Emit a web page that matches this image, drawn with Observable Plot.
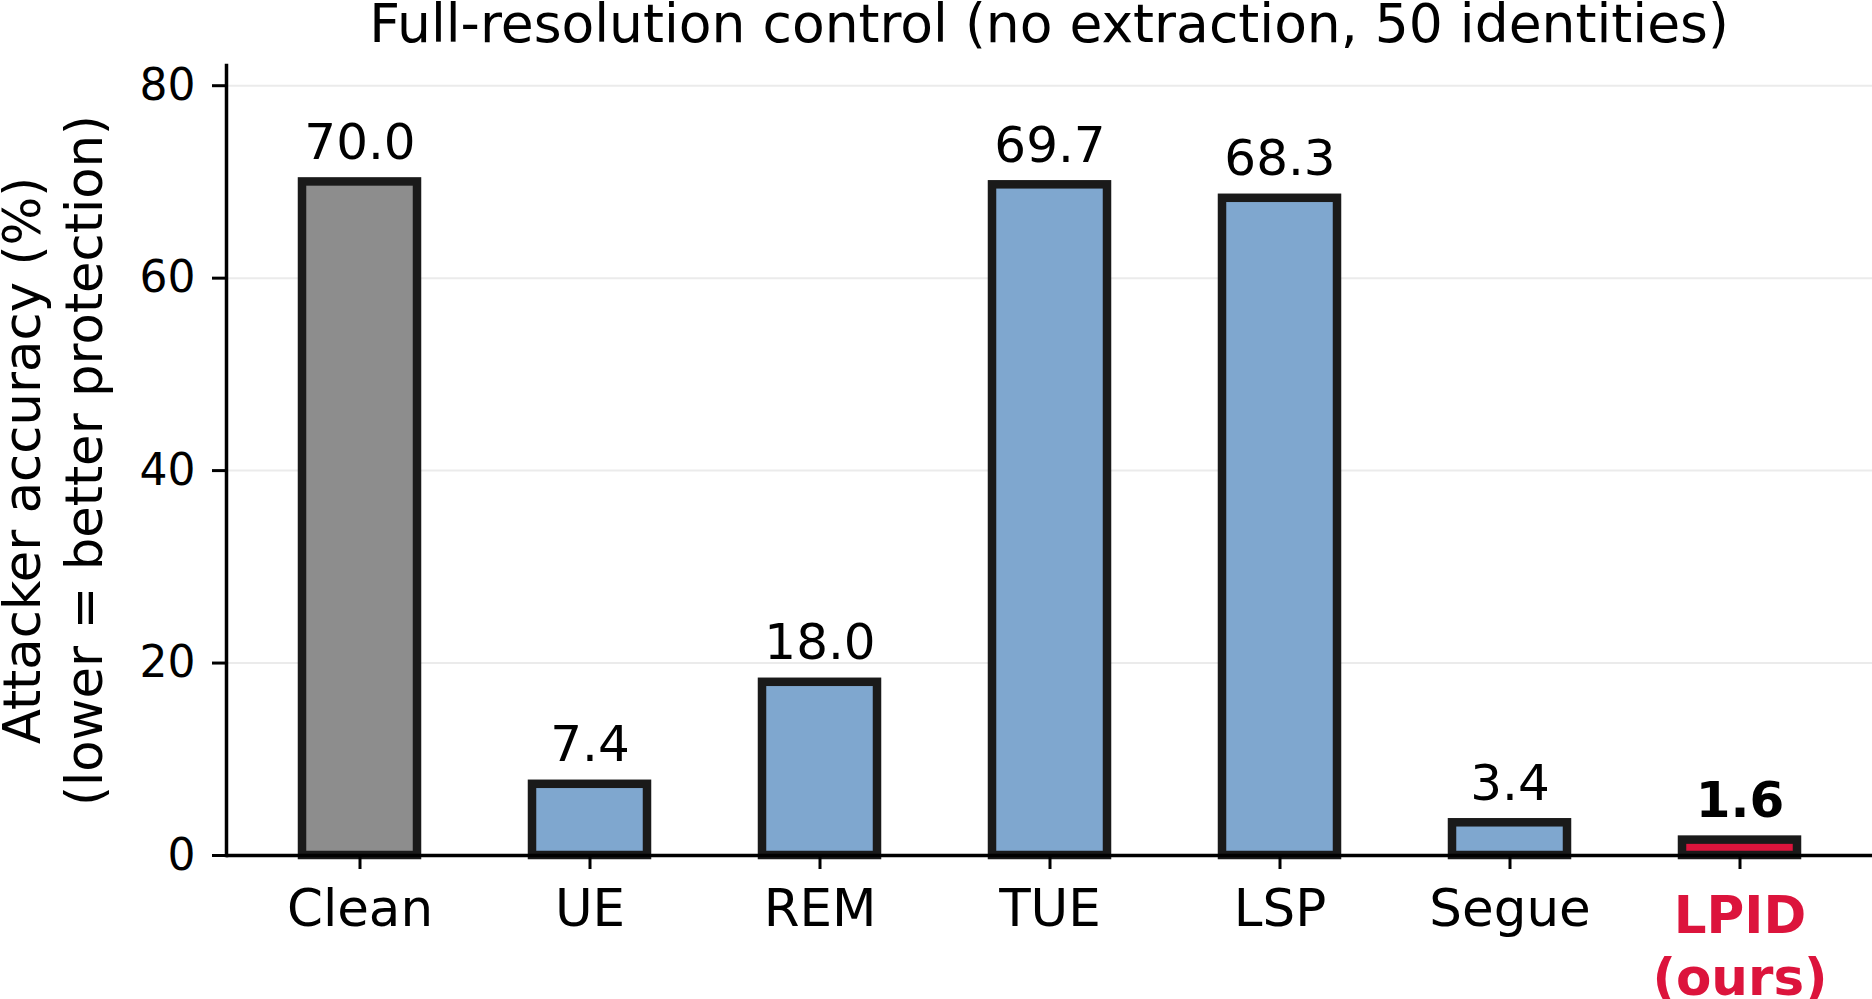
<!DOCTYPE html>
<html>
<head>
<meta charset="utf-8">
<script src="https://cdn.jsdelivr.net/npm/d3@7"></script>
<script src="https://cdn.jsdelivr.net/npm/@observablehq/plot@0.6"></script>
<style>
  html, body { margin: 0; padding: 0; background: #fff; }
  #title {
    font-family: "DejaVu Sans", sans-serif;
    font-size: 53.5px;
    line-height: 52px;
    height: 52px;
    padding-left: 226px;
    text-align: center;
    color: #000;
    position: relative;
    top: -2px;
    white-space: nowrap;
  }
  #chart svg { display: block; }
</style>
</head>
<body>
<div id="title">Full-resolution control (no extraction, 50 identities)</div>
<div id="chart"></div>
<script>
// Attacker accuracy per protection method, full-resolution setting
const methods = ["Clean", "UE", "REM", "TUE", "LSP", "Segue", "LPID"];
const accuracy = [70.0, 7.4, 18.0, 69.7, 68.3, 3.4, 1.6];
const valueLabels = ["70.0", "7.4", "18.0", "69.7", "68.3", "3.4", "1.6"];
const tickLabels = ["Clean", "UE", "REM", "TUE", "LSP", "Segue", "LPID\n(ours)"];
const barColors = ["#8d8d8d", "#7fa7cf", "#7fa7cf", "#7fa7cf", "#7fa7cf", "#7fa7cf", "#dc143c"];
const yTicks = [0, 20, 40, 60, 80];
const yLabel = "Attacker accuracy (%)\n(lower = better protection)";
const ours = "LPID";

const rows = methods.map((m, i) => ({
  method: m,
  acc: accuracy[i],
  label: valueLabels[i],
  tick: tickLabels[i],
  color: barColors[i],
  ours: m === ours
}));
const others = rows.filter(d => !d.ours);
const mine = rows.filter(d => d.ours);

const chart = Plot.plot({
  width: 1872,
  height: 947,
  marginTop: 13,
  marginBottom: 144,
  marginLeft: 226,
  marginRight: 0,
  style: { fontFamily: "DejaVu Sans, sans-serif", fontSize: "44px", color: "#000", background: "#fff", overflow: "visible" },
  x: { domain: methods, paddingInner: 0.5, paddingOuter: 0.325, align: 0.5, label: null },
  y: { domain: [0, 82.1], label: null },
  color: { type: "identity" },
  marks: [
    Plot.gridY(yTicks.filter(t => t > 0), { stroke: "#ebebeb", strokeOpacity: 1, strokeWidth: 2 }),
    Plot.barY(rows, { x: "method", y: "acc", fill: "color", stroke: "#1a1a1a", strokeWidth: 8.5, inset: 0 }),
    Plot.ruleY([0], { stroke: "#000", strokeWidth: 3.5 }),
    Plot.frame({ anchor: "left", stroke: "#000", strokeWidth: 3.5 }),
    Plot.axisY({ ticks: yTicks, tickSize: 14, tickPadding: 17, strokeWidth: 3, fontSize: 44, label: null }),
    Plot.axisX({ tickSize: 14, strokeWidth: 3, tickFormat: () => "", label: null }),
    // value labels above bars
    Plot.text(others, { x: "method", y: "acc", text: "label", lineAnchor: "bottom", dy: -23, fontSize: 50, fill: "#000" }),
    Plot.text(mine, { x: "method", y: "acc", text: "label", lineAnchor: "bottom", dy: -23, fontSize: 50, fontWeight: "bold", fill: "#000" }),
    // category labels
    Plot.text(others, { x: "method", text: "tick", frameAnchor: "bottom", lineAnchor: "top", dy: 33.6, fontSize: 51.5, fill: "#000" }),
    Plot.text(mine, { x: "method", text: "tick", frameAnchor: "bottom", lineAnchor: "top", dy: 33.6, fontSize: 51.5, fontWeight: "bold", fill: "#dc143c", lineHeight: 1.2 }),
    // y-axis title
    Plot.text([yLabel], { text: d => d, frameAnchor: "left", rotate: -90, dx: -175, fontSize: 51.3, lineHeight: 1.2, textAnchor: "middle", fill: "#000" })
  ]
});
document.getElementById("chart").appendChild(chart);
</script>
</body>
</html>
